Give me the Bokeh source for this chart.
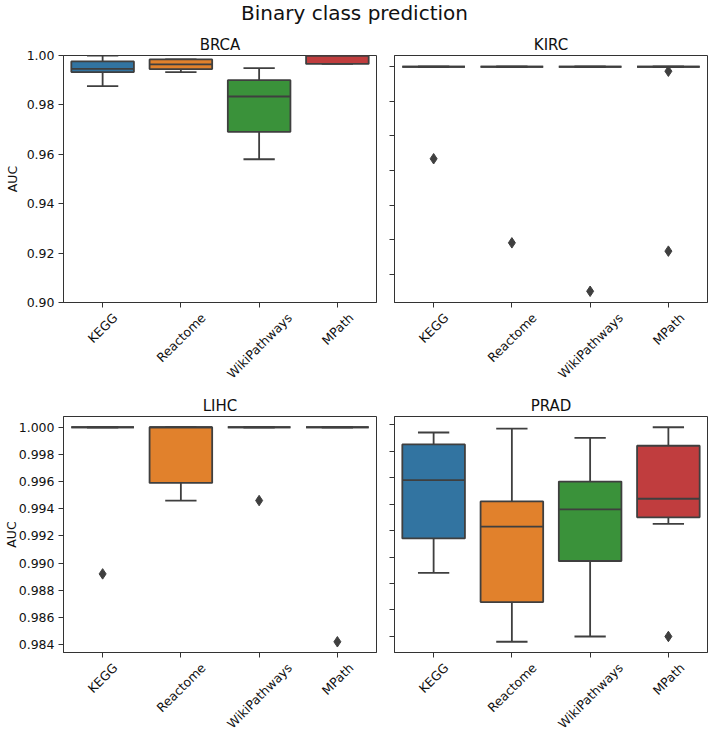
import math
from bokeh.plotting import figure
from bokeh.layouts import column, row
from bokeh.models import (ColumnDataSource, Range1d, FixedTicker,
                          PrintfTickFormatter, LinearAxis)
from bokeh.transform import dodge
from bokeh.embed import file_html
from bokeh.resources import INLINE

# ---------------- data ----------------
categories = ["KEGG", "Reactome", "WikiPathways", "MPath"]
colors = ["#3274a1", "#e1812c", "#3a923a", "#c03d3e"]

# BRCA
brca_low = [0.9876, 0.9933, 0.9580, 0.9966]
brca_q1 = [0.9933, 0.9945, 0.9691, 0.9966]
brca_med = [0.9946, 0.9964, 0.9834, 1.0000]
brca_q3 = [0.9976, 0.9984, 0.9900, 1.0000]
brca_high = [1.0000, 0.9984, 0.9949, 1.0000]
brca_out_cat = []
brca_out_val = []
brca_ticks = [0.90, 0.92, 0.94, 0.96, 0.98, 1.00]

# KIRC
kirc_low = [1.0, 1.0, 1.0, 1.0]
kirc_q1 = [1.0, 1.0, 1.0, 1.0]
kirc_med = [1.0, 1.0, 1.0, 1.0]
kirc_q3 = [1.0, 1.0, 1.0, 1.0]
kirc_high = [1.0, 1.0, 1.0, 1.0]
kirc_out_cat = ["KEGG", "Reactome", "WikiPathways", "MPath", "MPath"]
kirc_out_val = [0.9734, 0.9491, 0.9351, 0.9987, 0.9467]
kirc_ticks = [0.94, 0.95, 0.96, 0.97, 0.98, 0.99, 1.00]

# LIHC
lihc_low = [1.0, 0.9946, 1.0, 1.0]
lihc_q1 = [1.0, 0.9959, 1.0, 1.0]
lihc_med = [1.0, 1.0, 1.0, 1.0]
lihc_q3 = [1.0, 1.0, 1.0, 1.0]
lihc_high = [1.0, 1.0, 1.0, 1.0]
lihc_out_cat = ["KEGG", "WikiPathways", "MPath"]
lihc_out_val = [0.9892, 0.9946, 0.9842]
lihc_ticks = [0.984, 0.986, 0.988, 0.990, 0.992, 0.994, 0.996, 0.998, 1.000]

# PRAD
prad_low = [0.9888, 0.9836, 0.9840, 0.9925]
prad_q1 = [0.9914, 0.9866, 0.9897, 0.9930]
prad_med = [0.9958, 0.9923, 0.9936, 0.9944]
prad_q3 = [0.9985, 0.9942, 0.9957, 0.9984]
prad_high = [0.9994, 0.9997, 0.9990, 0.9998]
prad_out_cat = ["MPath"]
prad_out_val = [0.9840]
prad_ticks = lihc_ticks

# ---------------- style ----------------
FONT = "DejaVu Sans"
EDGE = "#3f3f3f"
SPINE = "#333333"
TXT = "#111111"
LW = 1.8
TICK_FS = 12.5
FRAME_W = 313

# DejaVu Sans advance widths (em), used to centre the rotated labels
CHAR_W = {"K": 0.656, "E": 0.632, "G": 0.775, "R": 0.695, "e": 0.615, "a": 0.613,
          "c": 0.550, "t": 0.392, "o": 0.612, "m": 0.974, "W": 0.989, "i": 0.278,
          "k": 0.579, "P": 0.603, "h": 0.634, "w": 0.818, "y": 0.592, "s": 0.521,
          "M": 0.863}

xpos = list(range(len(categories)))   # category slots on the x scale


def text_w(s):
    return sum(CHAR_W.get(ch, 0.6) for ch in s) * TICK_FS


def padded(vals):
    mn, mx = min(vals), max(vals)
    pad = (mx - mn) * 0.05
    return (mn - pad, mx + pad)


def panel(name, low, q1, med, q3, high, out_cat, out_val, ticks, fmt, yr,
          width, height, mbl, mbr, mbt, mbb, show_ylabels, ylabel_standoff=4):
    n = len(categories)
    p = figure(width=width, height=height,
               x_range=Range1d(-0.5, n - 0.5),
               y_range=Range1d(*yr),
               output_backend="svg", toolbar_location=None,
               min_border_left=mbl, min_border_right=mbr,
               min_border_top=mbt, min_border_bottom=mbb,
               background_fill_color="white", border_fill_color="white",
               outline_line_color=SPINE, outline_line_width=1)
    p.title.text = name
    p.title.align = "center"
    p.title.text_font = FONT
    p.title.text_font_size = "15px"
    p.title.text_font_style = "normal"
    p.title.text_color = TXT
    p.title.standoff = 4

    p.xgrid.visible = False
    p.ygrid.visible = False

    for ax in (p.xaxis, p.yaxis):
        ax.axis_line_color = SPINE
        ax.major_tick_line_color = SPINE
        ax.major_tick_out = 5
        ax.major_tick_in = 0
        ax.minor_tick_line_color = None

    # x axis: tick marks at the categories; names drawn by a second axis
    p.xaxis.ticker = FixedTicker(ticks=xpos)
    p.xaxis.major_label_text_color = None
    p.xaxis.major_label_text_font_size = "0px"
    p.xaxis.major_label_standoff = 0

    p.yaxis.ticker = FixedTicker(ticks=ticks)
    p.yaxis.formatter = PrintfTickFormatter(format=fmt)
    if show_ylabels:
        p.yaxis.major_label_text_font = FONT
        p.yaxis.major_label_text_font_size = f"{TICK_FS}px"
        p.yaxis.major_label_text_color = TXT
        p.yaxis.major_label_standoff = 4
        p.yaxis.axis_label = "AUC"
        p.yaxis.axis_label_text_font = FONT
        p.yaxis.axis_label_text_font_size = f"{TICK_FS}px"
        p.yaxis.axis_label_text_font_style = "normal"
        p.yaxis.axis_label_text_color = TXT
        p.yaxis.axis_label_standoff = ylabel_standoff
    else:
        p.yaxis.major_label_text_color = None
        p.yaxis.major_label_text_font_size = "0px"
        p.yaxis.major_label_standoff = 0

    src = ColumnDataSource(dict(x=xpos, low=low, q1=q1, med=med,
                                q3=q3, high=high, color=colors))
    p.segment(x0="x", y0="q3", x1="x", y1="high", source=src,
              line_color=EDGE, line_width=LW)
    p.segment(x0="x", y0="q1", x1="x", y1="low", source=src,
              line_color=EDGE, line_width=LW)
    p.segment(x0=dodge("x", -0.2), y0="high", x1=dodge("x", 0.2), y1="high",
              source=src, line_color=EDGE, line_width=LW)
    p.segment(x0=dodge("x", -0.2), y0="low", x1=dodge("x", 0.2), y1="low",
              source=src, line_color=EDGE, line_width=LW)
    p.vbar(x="x", width=0.8, bottom="q1", top="q3", source=src,
           fill_color="color", line_color=EDGE, line_width=LW)
    p.segment(x0=dodge("x", -0.4), y0="med", x1=dodge("x", 0.4), y1="med",
              source=src, line_color=EDGE, line_width=LW)
    if out_cat:
        osrc = ColumnDataSource(dict(x=[categories.index(c) for c in out_cat],
                                     val=out_val))
        p.scatter(x="x", y="val", source=osrc, marker="diamond", size=10.5,
                  fill_color=EDGE, line_color=EDGE)

    # rotated category names: a label-only axis whose ticks are nudged so that
    # each rotated name's bounding box is centred under its category
    px_per_unit = FRAME_W / n
    pos = [round(x + 0.354 * text_w(c) / px_per_unit, 4)
           for x, c in zip(xpos, categories)]
    lab = LinearAxis(ticker=FixedTicker(ticks=pos),
                     major_label_overrides={v: c for v, c in zip(pos, categories)},
                     major_label_orientation=math.pi / 4,
                     axis_line_color=None, major_tick_line_color=None,
                     minor_tick_line_color=None, major_tick_out=0, major_tick_in=0,
                     major_label_standoff=8,
                     major_label_text_font=FONT,
                     major_label_text_font_size=f"{TICK_FS}px",
                     major_label_text_color=TXT)
    p.add_layout(lab, "below")
    return p


brca_vals = brca_low + brca_high + brca_out_val
kirc_vals = kirc_low + kirc_high + kirc_out_val
lihc_vals = lihc_low + lihc_high + lihc_out_val
prad_vals = prad_low + prad_high + prad_out_val

p1 = panel("BRCA", brca_low, brca_q1, brca_med, brca_q3, brca_high,
           brca_out_cat, brca_out_val, brca_ticks, "%.2f", (0.90, 1.00),
           385, 366, 63, 9, 31, 88, True, 4)
p2 = panel("KIRC", kirc_low, kirc_q1, kirc_med, kirc_q3, kirc_high,
           kirc_out_cat, kirc_out_val, kirc_ticks, "%.2f", padded(kirc_vals),
           323, 366, 9, 1, 31, 88, False)
p3 = panel("LIHC", lihc_low, lihc_q1, lihc_med, lihc_q3, lihc_high,
           lihc_out_cat, lihc_out_val, lihc_ticks, "%.3f", padded(lihc_vals),
           385, 350, 63, 9, 26, 88, True, -3)
p4 = panel("PRAD", prad_low, prad_q1, prad_med, prad_q3, prad_high,
           prad_out_cat, prad_out_val, prad_ticks, "%.3f", padded(prad_vals),
           323, 350, 9, 1, 26, 88, False)

tf = figure(width=708, height=24, toolbar_location=None, output_backend="svg",
            min_border=0, outline_line_color=None, title="Binary class prediction")
tf.title.align = "center"
tf.title.text_font = FONT
tf.title.text_font_size = "20px"
tf.title.text_font_style = "normal"
tf.title.text_color = TXT
tf.title.standoff = 0
tf.axis.visible = False
tf.grid.visible = False

layout = column(tf, row(p1, p2), row(p3, p4))
open("out.html", "w").write(file_html(layout, INLINE))
